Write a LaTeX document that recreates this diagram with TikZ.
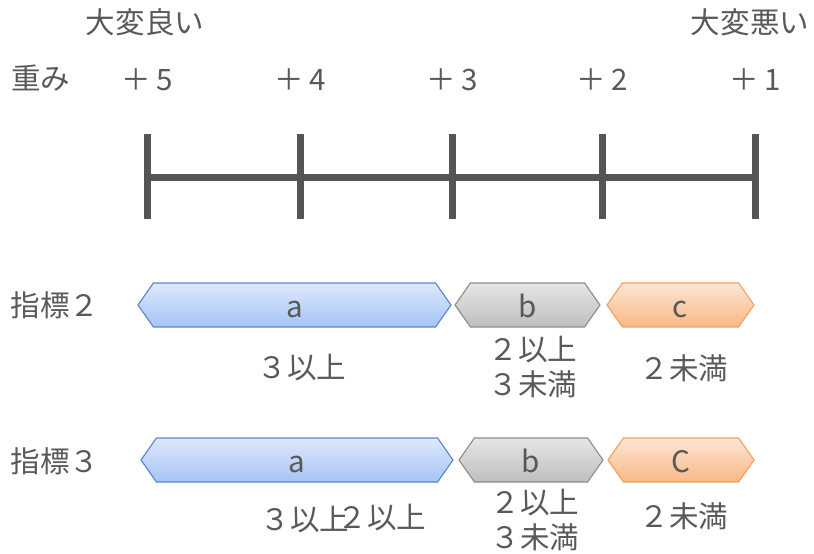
\documentclass[tikz,border=0pt]{standalone}
\usepackage{fontspec}
\setmainfont{Noto Sans CJK JP}
\usetikzlibrary{shapes.symbols,positioning}
\definecolor{txtgray}{HTML}{595959}
\definecolor{axisgray}{HTML}{555555}
\definecolor{blueTop}{HTML}{DDE8FC}
\definecolor{blueBot}{HTML}{A6C4F6}
\definecolor{blueLine}{HTML}{5A88C6}
\definecolor{grayTop}{HTML}{E6E6E6}
\definecolor{grayBot}{HTML}{BEBEBE}
\definecolor{grayLine}{HTML}{8C8C8C}
\definecolor{orangeTop}{HTML}{FDE6D4}
\definecolor{orangeBot}{HTML}{F9B886}
\definecolor{orangeLine}{HTML}{F4A05C}
\begin{document}
\begin{tikzpicture}
  [
  x=0.025cm, y=-0.025cm,
  font=\fontsize{21}{25}\selectfont, text=txtgray,
  axis/.style={line width=0.175cm, draw=axisgray},
  band/.style={signal, signal to=east and west, signal pointer angle=110,
    minimum height=1.1cm, inner sep=0pt, line width=0.8pt,
    text height=0.62cm, text depth=0pt},
  bandA/.style={band, draw=blueLine, top color=blueTop, bottom color=blueBot},
  bandB/.style={band, draw=grayLine, top color=grayTop, bottom color=grayBot},
  bandC/.style={band, draw=orangeLine, top color=orangeTop, bottom color=orangeBot},
  label/.style={align=center, inner sep=0pt}
  ]
\useasboundingbox (0,0) rectangle (814,553);

% weight scale
\foreach \w/\x in {5/147,4/300,3/452,2/602,1/755} {
  \coordinate (t\w) at (\x,177.5);
  \coordinate (tu\w) at (\x,134);
  \coordinate (td\w) at (\x,219);
  \node[label] (w\w) at (\x,80) {＋\,\w};
}
\draw[axis] (t5) -- (t1);
\foreach \w in {1,2,3,4,5} {
  \draw[axis] (tu\w) -- (td\w);
}

\node[label] (weight) at (41,78) {重み};
\node[label] (good) at (145,22) {大変良い};
\node[label] (bad) at (750,22) {大変悪い};

% indicator 2
\node[label] (ind2) at (55,305) {指標２};
\node[bandA, minimum width=313*0.025cm] (a2) at (294.5,305) {a};
\node[bandB, minimum width=145*0.025cm] (b2) at (527.5,305) {b};
\node[bandC, minimum width=147*0.025cm] (c2) at (680.5,305) {c};
\node[label] (a2t) at (302,368) {３以上};
\node[label] (b2t) at (533,367) {２以上\\３未満};
\node[label] (c2t) at (684,368) {２未満};

% indicator 3
\node[label] (ind3) at (55,461) {指標３};
\node[bandA, minimum width=312*0.025cm] (a3) at (297,460) {a};
\node[bandB, minimum width=144*0.025cm] (b3) at (531,460) {b};
\node[bandC, minimum width=146*0.025cm] (c3) at (681,460) {C};
\node[label] (a3t) at (305,520) {３以上};
\node[label] (a3u) at (382,518) {２以上};
\node[label] (b3t) at (535,520) {２以上\\３未満};
\node[label] (c3t) at (684,516) {２未満};
\end{tikzpicture}
\end{document}
